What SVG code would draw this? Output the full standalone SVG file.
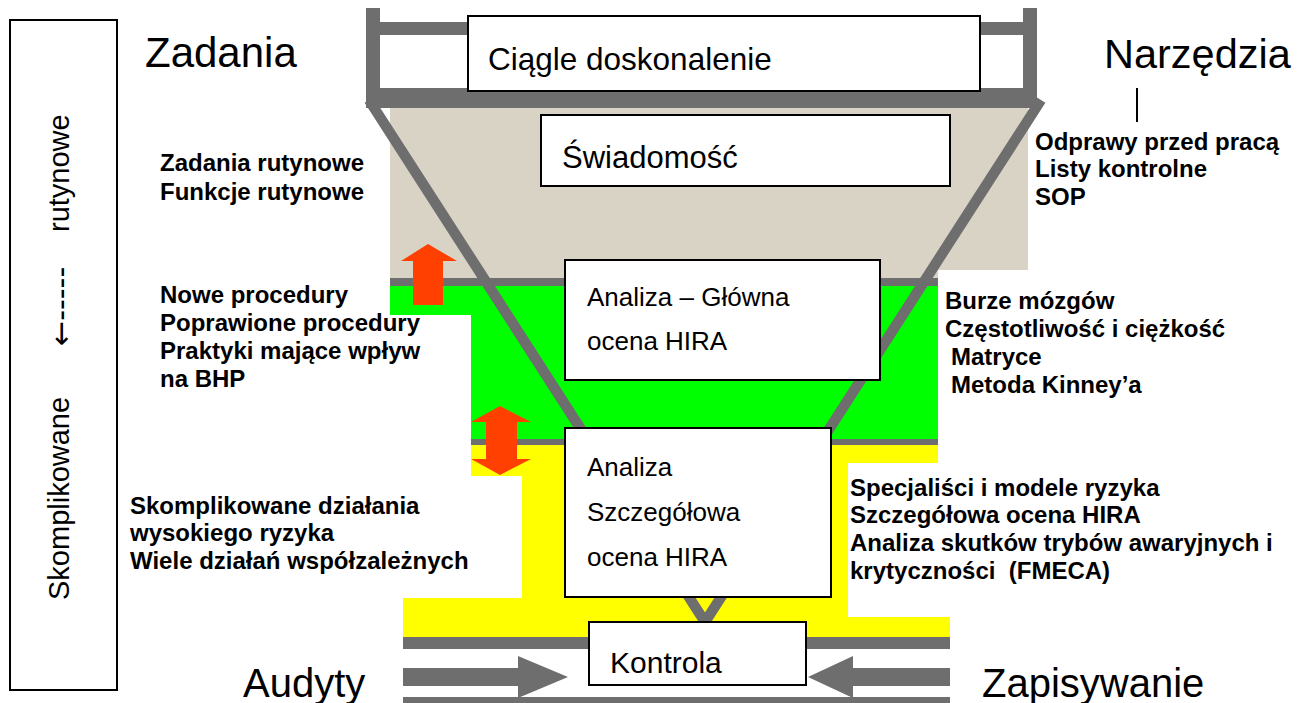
<svg xmlns="http://www.w3.org/2000/svg" width="1305" height="703" viewBox="0 0 1305 703">
<style>
.g{fill:#6e6e6e}
.box{fill:#fff;stroke:#000;stroke-width:2}
.b{font-family:"Liberation Sans",Arial,sans-serif;font-weight:bold;font-size:24px;fill:#000}
.r{font-family:"Liberation Sans",Arial,sans-serif;font-size:26px;fill:#000}
.big{font-family:"Liberation Sans",Arial,sans-serif;font-size:40px;fill:#000}
.or{fill:#ff4000}
</style>
<rect width="1305" height="703" fill="#fff"/>
<g id="bands">
<rect x="390" y="105" width="638" height="165" fill="#d9d3c6"/>
<rect x="390" y="268" width="548" height="12" fill="#d9d3c6"/>
<polygon points="390,283 938,283 938,443 471,443 471,315 390,315" fill="#00ff00"/>
<polygon points="471,443 938,443 938,463 848,463 848,617 950,617 950,637 403,637 403,598 522,598 522,476 471,476" fill="#ffff00"/>
<rect x="390" y="278" width="548" height="8" class="g"/>
<rect x="471" y="439" width="467" height="6" class="g"/>
</g>
<g id="frame">
<rect x="366" y="8" width="14" height="97" class="g"/>
<rect x="1023" y="8" width="14" height="97" class="g"/>
<rect x="366" y="22" width="671" height="13" class="g"/>
<rect x="366" y="88" width="671" height="20" class="g"/>
<polyline points="369,100 705,622 1041,100" fill="none" stroke="#6e6e6e" stroke-width="10.5" stroke-linejoin="miter"/>
<rect x="403" y="637" width="547" height="12" class="g"/>
<rect x="403" y="697" width="547" height="6" class="g"/>
</g>
<g id="connectors">
<polygon points="403,668 518,668 518,656 568,677 518,698 518,686 403,686" class="g"/>
<polygon points="950,668 853,668 853,656 808,677 853,698 853,686 950,686" class="g"/>
<polygon points="428,244 457,261 443,261 443,305 413,305 413,261 401,261" class="or"/>
<polygon points="500,406 531,422 517,422 517,459 531,459 500,475 471,459 486,459 486,422 471,422" class="or"/>
<line x1="1137" y1="88" x2="1137" y2="122" stroke="#000" stroke-width="2"/>
</g>
<g id="n-ciagle"><rect x="468" y="16" width="512" height="75" class="box"/><text x="488" y="70" class="r" style="font-size:31.5px">Ciągle doskonalenie</text></g>
<g id="n-swiadomosc"><rect x="541" y="115" width="409" height="71" class="box"/><text x="562" y="168" class="r" style="font-size:31px">Świadomość</text></g>
<g id="n-glowna"><rect x="565" y="260" width="315" height="120" class="box"/><text x="587" y="306" class="r">Analiza – Główna</text><text x="587" y="350" class="r">ocena HIRA</text></g>
<g id="n-szczeg"><rect x="565" y="428" width="266" height="169" class="box"/><text x="587" y="476" class="r">Analiza</text><text x="587" y="521" class="r">Szczegółowa</text><text x="587" y="566" class="r">ocena HIRA</text></g>
<g id="n-kontrola"><rect x="589" y="622" width="217" height="63" class="box"/><text x="610" y="673" class="r" style="font-size:30px">Kontrola</text></g>
<g id="n-side"><rect x="10" y="20" width="107" height="670" fill="none" stroke="#000" stroke-width="2"/>
<text transform="translate(69,600) rotate(-90)" class="r" style="font-size:29px">Skomplikowane</text>
<text transform="translate(71,346) rotate(-90)" style="font-family:'DejaVu Sans',sans-serif;font-size:30px;fill:#000">←-----</text>
<text transform="translate(69,232) rotate(-90)" class="r" style="font-size:29px">rutynowe</text></g>
<g id="labels">
<text x="145" y="67" class="big" style="font-size:42px">Zadania</text>
<text x="1104" y="68" class="big" style="font-size:41.5px">Narzędzia</text>
<text x="243" y="697" class="big">Audyty</text>
<text x="982" y="697" class="big">Zapisywanie</text>
<text x="160" y="171" class="b">Zadania rutynowe</text>
<text x="160" y="200" class="b">Funkcje rutynowe</text>
<text x="160" y="303" class="b">Nowe procedury</text>
<text x="160" y="331" class="b">Poprawione procedury</text>
<text x="160" y="359" class="b">Praktyki mające wpływ</text>
<text x="160" y="387" class="b">na BHP</text>
<text x="130" y="514" class="b">Skomplikowane działania</text>
<text x="130" y="541" class="b">wysokiego ryzyka</text>
<text x="130" y="569" class="b">Wiele działań współzależnych</text>
<text x="1035" y="150" class="b">Odprawy przed pracą</text>
<text x="1035" y="177" class="b">Listy kontrolne</text>
<text x="1035" y="205" class="b">SOP</text>
<text x="945" y="309" class="b">Burze mózgów</text>
<text x="945" y="337" class="b">Częstotliwość i ciężkość</text>
<text x="951" y="365" class="b">Matryce</text>
<text x="951" y="393" class="b">Metoda Kinney’a</text>
<text x="850" y="496" class="b">Specjaliści i modele ryzyka</text>
<text x="850" y="523" class="b">Szczegółowa ocena HIRA</text>
<text x="850" y="551" class="b">Analiza skutków trybów awaryjnych i</text>
<text x="850" y="579" class="b" style="white-space:pre">krytyczności  (FMECA)</text>
</g>
</svg>
